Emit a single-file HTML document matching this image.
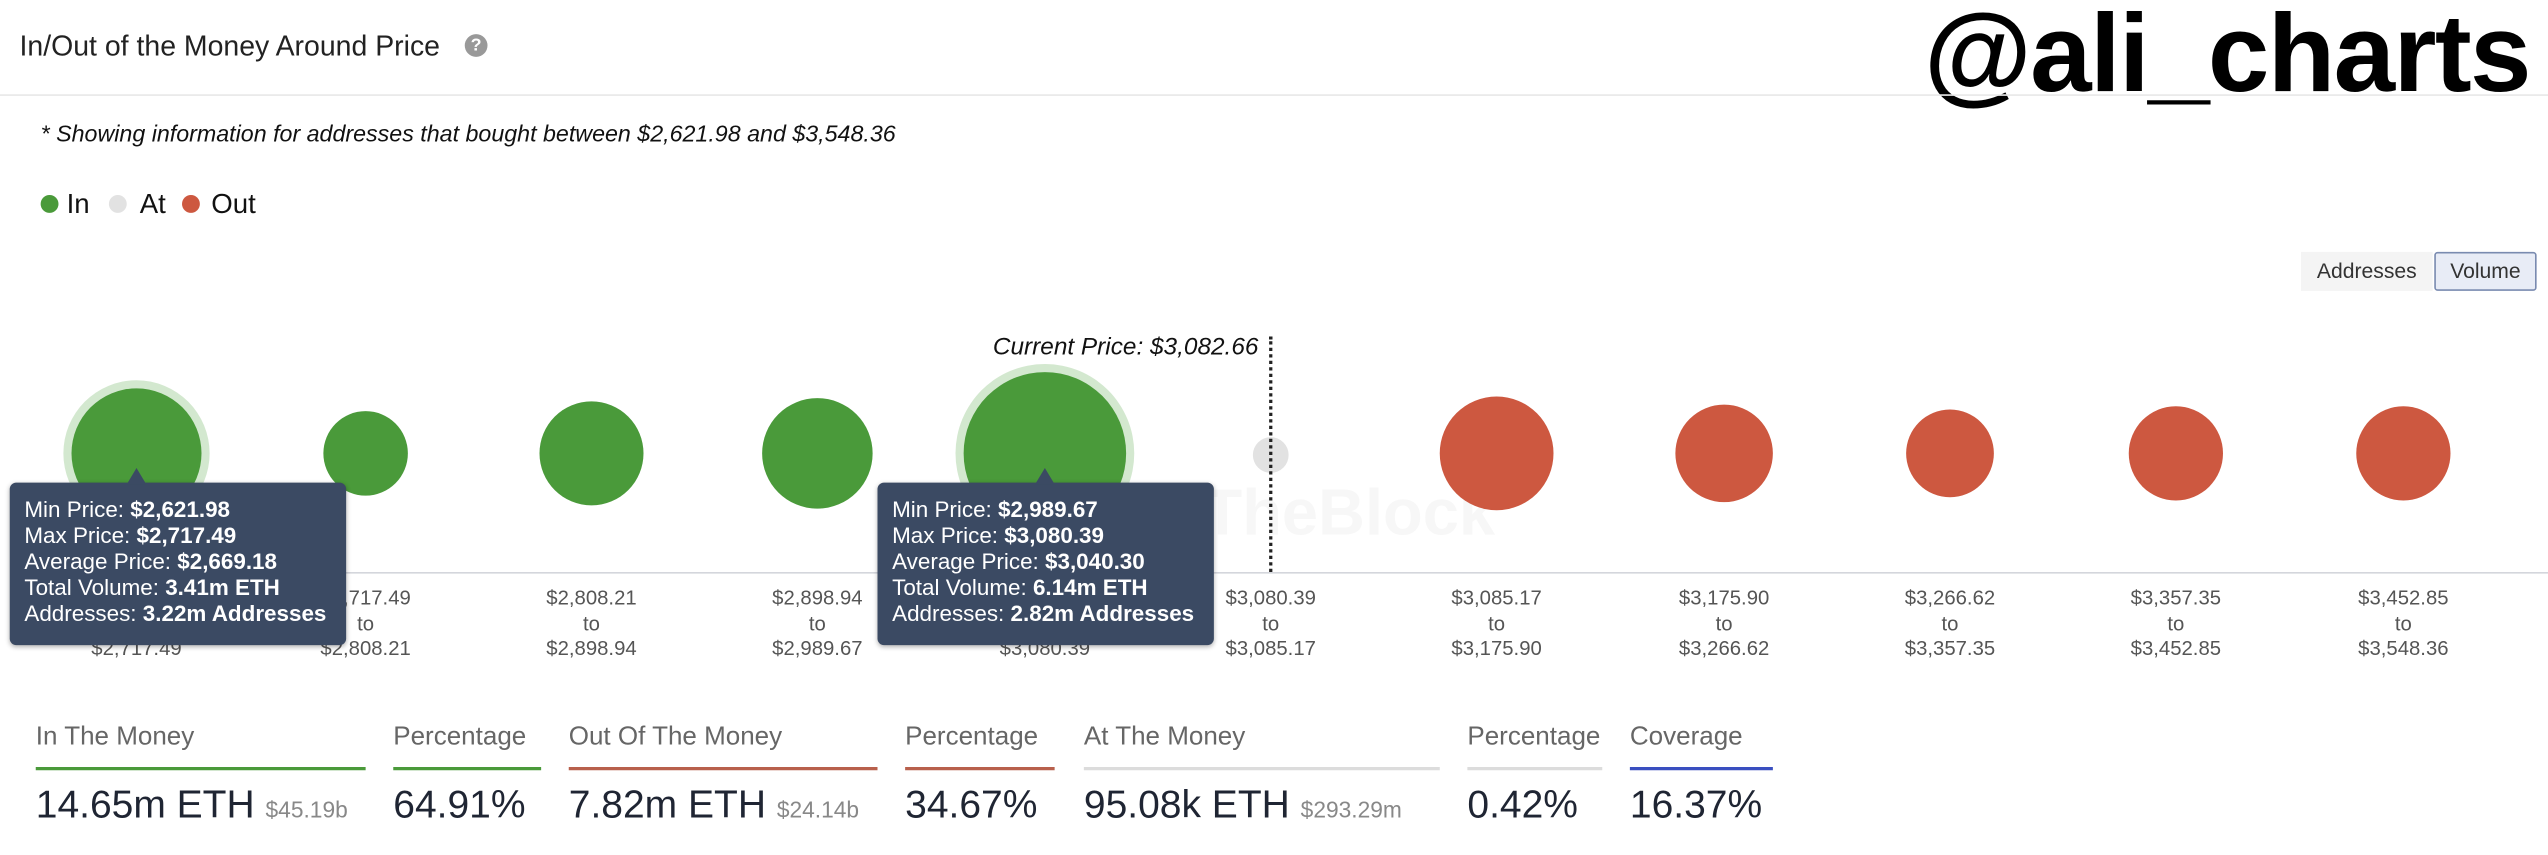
<!DOCTYPE html>
<html><head><meta charset="utf-8"><style>
html,body{margin:0;padding:0;background:#fff;overflow:hidden;width:2548px;height:854px}
#w{position:absolute;left:0;top:0;width:1568px;height:526px;transform:scale(1.625);transform-origin:0 0;font-family:"Liberation Sans",sans-serif}
.a{position:absolute;white-space:nowrap}
.lbl{position:absolute;width:120px;margin-left:-60px;text-align:center;font-size:12.5px;color:#555;line-height:15.5px}
.tt{position:absolute;background:#3b4a63;border-radius:4px;color:#fff;font-size:13.8px;line-height:16px;padding:9px 9px;width:189px;height:82px;box-shadow:0 1px 3px rgba(0,0,0,.3)}
.tt b{font-weight:bold}
.h{position:absolute;top:445px;font-size:16px;color:#666}
.u{position:absolute;top:472px;height:2px}
.v{position:absolute;top:482px;font-size:24px;color:#1f2533}
.v small{font-size:14px;color:#888}
</style></head><body><div id="w">
<div class="a" style="left:12px;top:18px;font-size:17.5px;color:#222">In/Out of the Money Around Price</div>
<div class="a" style="left:286px;top:21px;width:14px;height:14px;border-radius:50%;background:#999;color:#fff;font-size:11px;font-weight:bold;text-align:center;line-height:14px">?</div>
<div class="a" style="left:1184px;top:-6px;font-size:68px;font-weight:bold;color:#000;letter-spacing:-1px">@ali_charts</div>
<div class="a" style="left:0;top:58px;width:1568px;height:1px;background:#e8e8e8"></div>
<div class="a" style="left:25px;top:75px;font-size:14.3px;font-style:italic;color:#111">* Showing information for addresses that bought between $2,621.98 and $3,548.36</div>
<div class="a" style="left:25px;top:120px;width:11px;height:11px;border-radius:50%;background:#4a9a3a"></div>
<div class="a" style="left:41px;top:116px;font-size:17px;color:#111">In</div>
<div class="a" style="left:67px;top:120px;width:11px;height:11px;border-radius:50%;background:#e2e2e2"></div>
<div class="a" style="left:86px;top:116px;font-size:17px;color:#111">At</div>
<div class="a" style="left:112px;top:120px;width:11px;height:11px;border-radius:50%;background:#cd5840"></div>
<div class="a" style="left:130px;top:116px;font-size:17px;color:#111">Out</div>
<div class="a" style="left:1416px;top:155px;width:81px;height:24px;background:#f4f4f4;font-size:13px;color:#333;text-align:center;line-height:24px">Addresses</div>
<div class="a" style="left:1498px;top:155px;width:61px;height:22px;background:#e8ecf6;border:1px solid #7a8bb0;border-radius:2px;font-size:13px;color:#333;text-align:center;line-height:22px">Volume</div>
<div class="a" style="left:611px;top:205px;font-size:15px;font-style:italic;color:#111">Current Price: $3,082.66</div>
<div class="a" style="left:740px;top:294px;font-size:40px;font-weight:bold;color:#f7f7f7">TheBlock</div>
<svg class="a" style="left:0;top:0" width="1568" height="526">
<circle cx="84" cy="279" r="45" fill="#d3e8cf"/><circle cx="84" cy="279" r="40" fill="#4a9a3a"/>
<circle cx="225" cy="279" r="26" fill="#4a9a3a"/>
<circle cx="364" cy="279" r="32" fill="#4a9a3a"/>
<circle cx="503" cy="279" r="34" fill="#4a9a3a"/>
<circle cx="643" cy="279" r="55" fill="#d3e8cf"/><circle cx="643" cy="279" r="50" fill="#4a9a3a"/>
<circle cx="782" cy="280" r="11" fill="#e2e2e2"/>
<circle cx="921" cy="279" r="35" fill="#cd5840"/>
<circle cx="1061" cy="279" r="30" fill="#cd5840"/>
<circle cx="1200" cy="279" r="27" fill="#cd5840"/>
<circle cx="1339" cy="279" r="29" fill="#cd5840"/>
<circle cx="1479" cy="279" r="29" fill="#cd5840"/>
</svg>
<div class="a" style="left:781px;top:207px;height:145px;border-left:2px dotted #222"></div>
<div class="a" style="left:10px;top:352px;width:1558px;height:1px;background:#d4d6dc"></div>
<div class="lbl" style="left:84px;top:361px">$2,621.98<br>to<br>$2,717.49</div>
<div class="lbl" style="left:225px;top:361px">$2,717.49<br>to<br>$2,808.21</div>
<div class="lbl" style="left:364px;top:361px">$2,808.21<br>to<br>$2,898.94</div>
<div class="lbl" style="left:503px;top:361px">$2,898.94<br>to<br>$2,989.67</div>
<div class="lbl" style="left:643px;top:361px">$2,989.67<br>to<br>$3,080.39</div>
<div class="lbl" style="left:782px;top:361px">$3,080.39<br>to<br>$3,085.17</div>
<div class="lbl" style="left:921px;top:361px">$3,085.17<br>to<br>$3,175.90</div>
<div class="lbl" style="left:1061px;top:361px">$3,175.90<br>to<br>$3,266.62</div>
<div class="lbl" style="left:1200px;top:361px">$3,266.62<br>to<br>$3,357.35</div>
<div class="lbl" style="left:1339px;top:361px">$3,357.35<br>to<br>$3,452.85</div>
<div class="lbl" style="left:1479px;top:361px">$3,452.85<br>to<br>$3,548.36</div>
<div class="tt" style="left:6px;top:297px">Min Price: <b>$2,621.98</b><br>Max Price: <b>$2,717.49</b><br>Average Price: <b>$2,669.18</b><br>Total Volume: <b>3.41m ETH</b><br>Addresses: <b>3.22m Addresses</b></div>
<div class="tt" style="left:540px;top:297px">Min Price: <b>$2,989.67</b><br>Max Price: <b>$3,080.39</b><br>Average Price: <b>$3,040.30</b><br>Total Volume: <b>6.14m ETH</b><br>Addresses: <b>2.82m Addresses</b></div>
<svg class="a" style="left:0;top:0" width="1568" height="300"><polygon points="78,298 84,288 90,298" fill="#3b4a63"/><polygon points="637,298 643,288 649,298" fill="#3b4a63"/></svg>
<div class="h" style="left:22px">In The Money</div><div class="u" style="left:22px;width:203px;background:#4a9a3a"></div>
<div class="v" style="left:22px">14.65m ETH <small>$45.19b</small></div>
<div class="h" style="left:242px">Percentage</div><div class="u" style="left:242px;width:91px;background:#4a9a3a"></div>
<div class="v" style="left:242px">64.91%</div>
<div class="h" style="left:350px">Out Of The Money</div><div class="u" style="left:350px;width:190px;background:#b8604c"></div>
<div class="v" style="left:350px">7.82m ETH <small>$24.14b</small></div>
<div class="h" style="left:557px">Percentage</div><div class="u" style="left:557px;width:92px;background:#b8604c"></div>
<div class="v" style="left:557px">34.67%</div>
<div class="h" style="left:667px">At The Money</div><div class="u" style="left:667px;width:219px;background:#dcdcdc"></div>
<div class="v" style="left:667px">95.08k ETH <small>$293.29m</small></div>
<div class="h" style="left:903px">Percentage</div><div class="u" style="left:903px;width:83px;background:#dcdcdc"></div>
<div class="v" style="left:903px">0.42%</div>
<div class="h" style="left:1003px">Coverage</div><div class="u" style="left:1003px;width:88px;background:#3a4fc0"></div>
<div class="v" style="left:1003px">16.37%</div>
</div></body></html>
